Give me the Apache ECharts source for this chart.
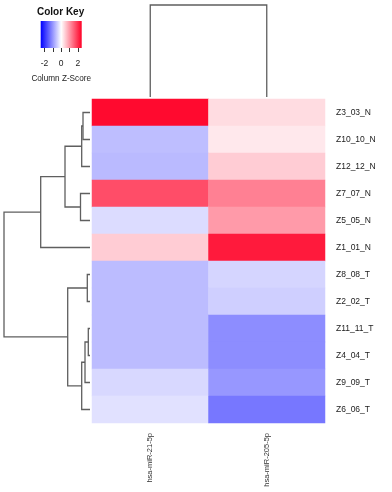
<!DOCTYPE html>
<html>
<head>
<meta charset="utf-8">
<script src="https://cdn.jsdelivr.net/npm/echarts@6/dist/echarts.min.js"></script>
<style>
    html, body { margin: 0; padding: 0; background: #fff; }
    #chart { width: 392px; height: 492px; }
</style>
</head>
<body>
<div id="chart"></div>
<script>
    const genes = ['hsa-miR-21-5p', 'hsa-miR-205-5p'];
    const samples = [
        'Z3_03_N', 'Z10_10_N', 'Z12_12_N', 'Z7_07_N', 'Z5_05_N', 'Z1_01_N',
        'Z8_08_T', 'Z2_02_T', 'Z11_11_T', 'Z4_04_T', 'Z9_09_T', 'Z6_06_T'
    ];
    // column z-scores, one per sample (display order)
    const mir21 = [2.35, -0.62, -0.66, 1.71, -0.34, 0.49, -0.64, -0.64, -0.64, -0.64, -0.37, -0.29];
    const mir205 = [0.34, 0.22, 0.49, 1.22, 0.97, 2.2, -0.40, -0.46, -1.10, -1.10, -1.0, -1.31];

    // hclust-like merges: negative = leaf (1-based, display order), positive = earlier merge
    const rowMerge = [[-9, -10], [-7, -8], [-1, -2], [1, -11], [3, -3], [4, -12], [-4, -5], [2, 6], [5, 7], [9, -6], [10, 8]];
    const rowHeight = [1.7, 2.7, 7, 5, 8.3, 8.3, 9.5, 22.3, 25, 49.3, 86];
    const colMerge = [[-1, -2]];
    const colHeight = [1];

    const keyMin = -2.45, keyMax = 2.45;
    const keyTicks = [-2, -1, 0, 1, 2];
    const keyLabels = [-2, 0, 2];

    const zColors = ['#0000ff', '#ffffff', '#ff0026'];
    const lineColor = '#5f5f5f';

    // build polylines for a dendrogram: points are [height, position]
    function dendro(merge, height) {
        const pos = [], h = [], lines = [];
        merge.forEach(([a, b], i) => {
            const pa = a < 0 ? -a - 0.5 : pos[a - 1];
            const pb = b < 0 ? -b - 0.5 : pos[b - 1];
            const ha = a < 0 ? 0 : h[a - 1];
            const hb = b < 0 ? 0 : h[b - 1];
            pos.push((pa + pb) / 2);
            h.push(height[i]);
            lines.push([[ha, pa], [height[i], pa], [height[i], pb], [hb, pb]]);
        });
        return lines;
    }

    function dendroSeries(lines, axisIdx, swap) {
        return {
            type: 'custom',
            xAxisIndex: axisIdx,
            yAxisIndex: axisIdx,
            silent: true,
            clip: false,
            data: lines.map(l => swap ? [l[1][1], l[1][0]] : l[1]),
            renderItem: (params, api) => {
                const pts = lines[params.dataIndex].map(p => api.coord(swap ? [p[1], p[0]] : p));
                return {
                    type: 'polyline',
                    shape: { points: pts },
                    style: { stroke: lineColor, lineWidth: 1.3, fill: null }
                };
            }
        };
    }

    const cells = [];
    samples.forEach((s, i) => {
        cells.push([0, i, mir21[i]]);
        cells.push([1, i, mir205[i]]);
    });

    const chart = echarts.init(document.getElementById('chart'));

    const option = {
        animation: false,
        textStyle: { fontFamily: 'Liberation Sans, Arial, sans-serif' },
        grid: [
            { left: 92, top: 99, width: 233, height: 324 },   // heatmap
            { left: 4, top: 99, width: 86, height: 324 },     // row dendrogram
            { left: 92, top: 5, width: 233, height: 92 },     // column dendrogram
            { left: 40.7, top: 21, width: 41, height: 27 }    // colour key
        ],
        xAxis: [
            {
                gridIndex: 0, type: 'category', data: genes,
                axisLine: { show: false }, axisTick: { show: false },
                axisLabel: { rotate: 90, fontSize: 7.5, color: '#333', margin: 10 }
            },
            { gridIndex: 1, type: 'value', min: 0, max: 86, inverse: true, show: false },
            { gridIndex: 2, type: 'value', min: 0, max: 2, show: false },
            {
                gridIndex: 3, type: 'value', min: keyMin, max: keyMax,
                splitLine: { show: false },
                axisLine: { show: false },
                axisTick: { show: true, customValues: keyTicks, length: 4, lineStyle: { color: '#333' } },
                axisLabel: { customValues: keyLabels, fontSize: 8.5, color: '#222', margin: 11 },
                name: 'Column Z-Score', nameLocation: 'middle', nameGap: 27,
                nameTextStyle: { fontSize: 8.2, color: '#222' }
            }
        ],
        yAxis: [
            {
                gridIndex: 0, type: 'category', data: samples, inverse: true, position: 'right',
                axisLine: { show: false }, axisTick: { show: false },
                axisLabel: { fontSize: 8.5, color: '#222', margin: 11 }
            },
            { gridIndex: 1, type: 'value', min: 0, max: samples.length, inverse: true, show: false },
            { gridIndex: 2, type: 'value', min: 0, max: 1, show: false },
            { gridIndex: 3, type: 'value', min: 0, max: 1, show: false }
        ],
        visualMap: {
            show: false,
            seriesIndex: 0,
            min: keyMin,
            max: keyMax,
            inRange: { color: zColors }
        },
        graphic: [{
            type: 'text', left: 37, top: 7,
            style: { text: 'Color Key', fontSize: 10, fontWeight: 'bold', fill: '#111', fontFamily: 'Liberation Sans, Arial, sans-serif' }
        }],
        series: [
            {
                type: 'heatmap',
                xAxisIndex: 0, yAxisIndex: 0,
                data: cells,
                itemStyle: { borderWidth: 0 }
            },
            dendroSeries(dendro(rowMerge, rowHeight), 1, false),
            dendroSeries(dendro(colMerge, colHeight), 2, true),
            {
                type: 'custom',
                xAxisIndex: 3, yAxisIndex: 3,
                silent: true,
                data: [[keyMin, 1, keyMax, 0]],
                renderItem: (params, api) => {
                    const p0 = api.coord([api.value(0), api.value(1)]);
                    const p1 = api.coord([api.value(2), api.value(3)]);
                    return {
                        type: 'rect',
                        shape: { x: p0[0], y: p0[1], width: p1[0] - p0[0], height: p1[1] - p0[1] },
                        style: {
                            fill: new echarts.graphic.LinearGradient(0, 0, 1, 0, [
                                { offset: 0, color: zColors[0] },
                                { offset: 0.5, color: zColors[1] },
                                { offset: 1, color: zColors[2] }
                            ])
                        }
                    };
                }
            }
        ]
    };

    chart.setOption(option);
</script>
</body>
</html>
